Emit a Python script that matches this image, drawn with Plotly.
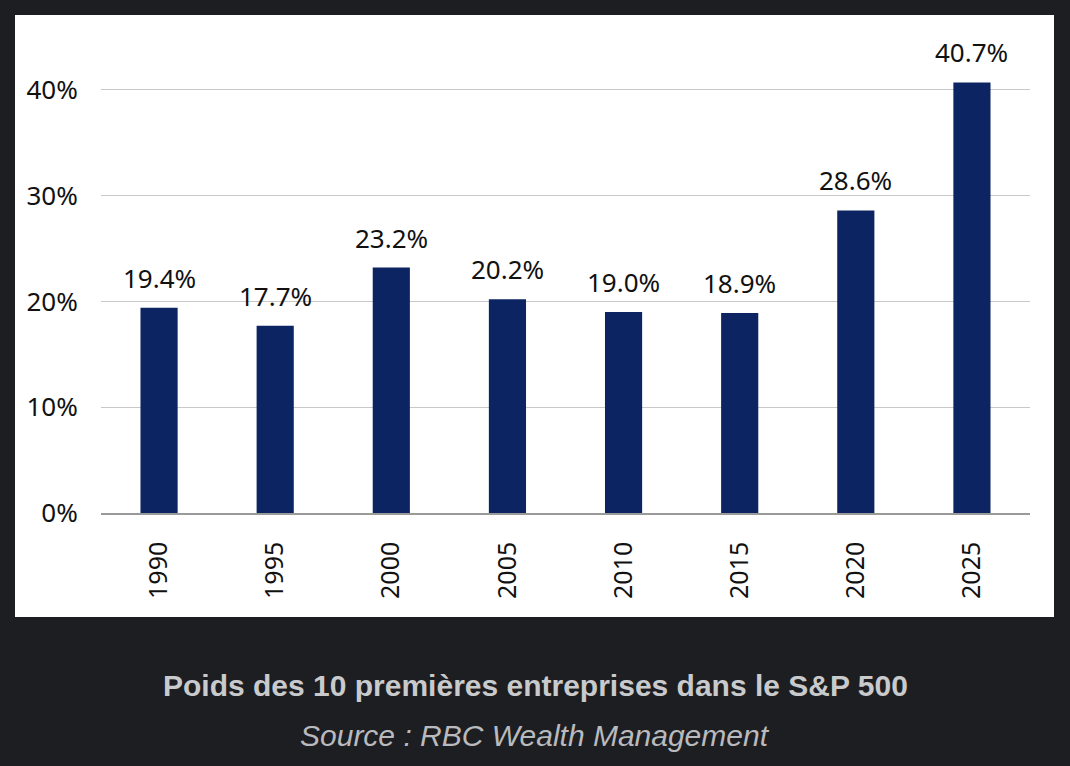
import plotly.graph_objects as go

BACKGROUND = "#1d1e22"
BAR_COLOR = "#0c2461"

years = ["1990", "1995", "2000", "2005", "2010", "2015", "2020", "2025"]
weights = [19.4, 17.7, 23.2, 20.2, 19.0, 18.9, 28.6, 40.7]
y_ticks = [0, 10, 20, 30, 40]
y_tick_labels = ["0%", "10%", "20%", "30%", "40%"]

title_text = "Poids des 10 premières entreprises dans le S&P 500"
source_text = "Source : RBC Wealth Management"

# plot area in pixels (inside a 1070x766 page)
L, R, T, B = 101, 40, 37, 253
W, H = 1070 - L - R, 766 - T - B

fig = go.Figure(
    go.Bar(
        x=years,
        y=weights,
        marker_color=BAR_COLOR,
        marker_line_width=0,
        width=0.32,
        hoverinfo="x+y",
    )
)

# value labels above bars (x given as category index)
for i, v in enumerate(weights):
    fig.add_annotation(
        x=i,
        y=v,
        text=f"{v:.1f}%",
        showarrow=False,
        yanchor="bottom",
        yshift=10,
        font=dict(family="Noto Sans", size=26, color="#111"),
    )

# white panel behind the chart
fig.add_shape(
    type="rect",
    xref="paper",
    yref="paper",
    x0=(15 - L) / W,
    x1=(1054 - L) / W,
    y0=(766 - B - 617) / H,
    y1=(766 - B - 15) / H,
    fillcolor="white",
    line_width=0,
    layer="below",
)

fig.add_annotation(
    xref="paper",
    yref="paper",
    x=(535 - L) / W,
    y=(766 - B - 685) / H,
    text="<b>" + title_text.replace("&", "&amp;") + "</b>",
    showarrow=False,
    xanchor="center",
    yanchor="middle",
    font=dict(family="Liberation Sans", size=30, color="#c9cacc"),
)
fig.add_annotation(
    xref="paper",
    yref="paper",
    x=(535 - L) / W,
    y=(766 - B - 735) / H,
    text="<i>" + source_text + "</i>",
    showarrow=False,
    xanchor="center",
    yanchor="middle",
    font=dict(family="Liberation Sans", size=30, color="#b9babd"),
)

fig.update_layout(
    width=1070,
    height=766,
    margin=dict(l=L, r=R, t=T, b=B, pad=0),
    paper_bgcolor=BACKGROUND,
    plot_bgcolor="white",
    showlegend=False,
    font=dict(family="Noto Sans", color="#111"),
)
fig.update_xaxes(
    type="category",
    range=[-0.5, len(years) - 0.5],
    tickangle=-90,
    tickfont=dict(family="Noto Sans", size=25, color="#111"),
    ticks="outside",
    ticklen=17,
    tickcolor="rgba(0,0,0,0)",
    showgrid=False,
    showline=True,
    linecolor="#9a9a9a",
    linewidth=1.5,
)
fig.update_yaxes(
    range=[0, 45],
    tickvals=y_ticks,
    ticktext=y_tick_labels,
    tickfont=dict(family="Noto Sans", size=26, color="#111"),
    ticks="outside",
    ticklen=17,
    tickcolor="rgba(0,0,0,0)",
    showgrid=True,
    gridcolor="#c8c8c8",
    gridwidth=1,
    zeroline=False,
)

fig.write_html(
    "out.html",
    config={"displayModeBar": False},
    post_script="document.body.style.margin='0';"
    "document.body.style.background='" + BACKGROUND + "';",
)
